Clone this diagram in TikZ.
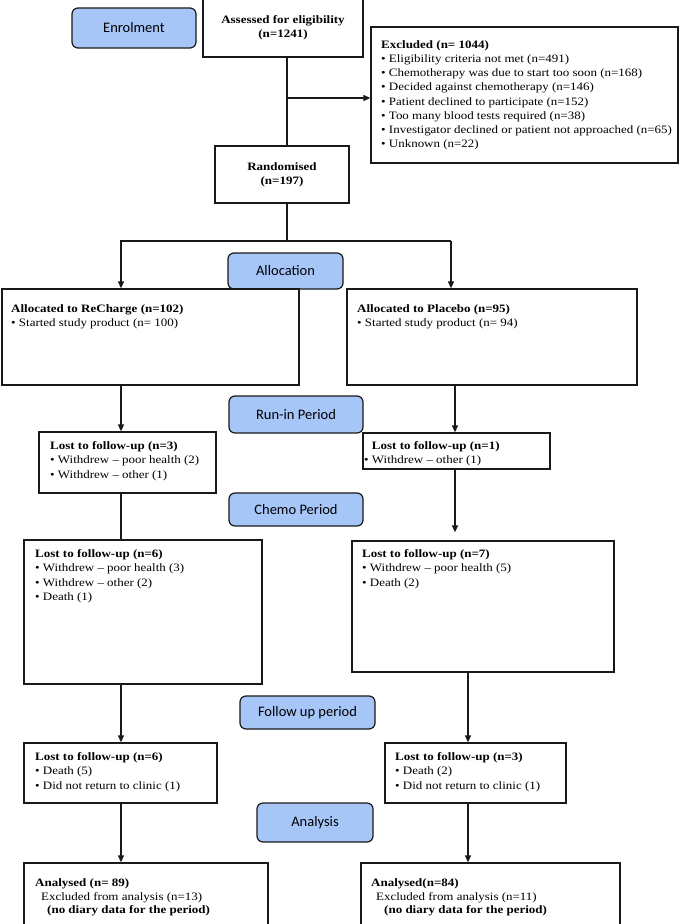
\documentclass[tikz,border=0pt]{standalone}
\usepackage{fontspec}
\setmainfont{Liberation Serif}[UprightFeatures={FakeStretch=1.147}, BoldFeatures={FakeStretch=1.15}]
\newfontfamily\phasefont{Carlito}
\usetikzlibrary{arrows.meta,calc}
\definecolor{phaseblue}{RGB}{166,198,248}
\definecolor{inkline}{RGB}{25,25,25}
\newcommand\mybox[6]{\node[#6, minimum width={#4-#2}, minimum height={#5-#3}] (#1) at ({(#2+#4)/2},{(#3+#5)/2}) {};}
\newcommand\myphase[6]{\node[phase, minimum width={#4-#2}, minimum height={#5-#3}] (#1) at ({(#2+#4)/2},{(#3+#5)/2}) {#6};}
\begin{document}
\begin{tikzpicture}[x=1pt,y=-1pt,
  box/.style={draw=inkline, line width=1.3pt, fill=white, inner sep=0pt},
  cbox/.style={box, align=center, font=\bfseries\fontsize{11.3}{14.2}\selectfont},
  phase/.style={draw=inkline, line width=1.2pt, fill=phaseblue, rounded corners=6pt, inner sep=0pt, font=\phasefont\fontsize{14.5}{16}\selectfont},
  txt/.style={anchor=north west, align=left, inner sep=0pt, font=\fontsize{11.3}{14.5}\selectfont},
  conn/.style={draw=inkline, line width=1.3pt},
  arr/.style={conn, -{Triangle[length=7pt,width=6pt]}}]
\useasboundingbox (0,0) rectangle (685,924);
\fill[white] (0,0) rectangle (685,924);

% phase labels
\myphase{enrol}{72}{8}{196}{48}{Enrolment}
\myphase{alloc}{228}{253}{343}{289}{Allocation}
\myphase{runin}{229}{396}{363}{433}{Run-in Period}
\myphase{chemo}{229}{493}{363}{526}{Chemo Period}
\myphase{fup}{240}{696}{375}{729}{Follow up period}
\myphase{anal}{257}{803}{373}{842}{Analysis}

% boxes
\node[cbox, minimum width=160, minimum height=59] (assess) at (283,27.5) {Assessed for eligibility\\(n=1241)};
\node[cbox, minimum width=134, minimum height=57] (rand) at (282,174.5) {Randomised\\(n=197)};
\mybox{excl}{371}{27}{678}{163}{box}
\mybox{rech}{2}{289}{299}{385}{box}
\mybox{plac}{347}{289}{637}{385}{box}
\mybox{lthree}{39}{432}{216}{493}{box}
\mybox{lone}{363}{433}{550}{469}{box}
\mybox{csix}{24}{540}{262}{684}{box}
\mybox{cseven}{352}{541}{614}{672}{box}
\mybox{fsix}{24}{743}{217}{803}{box}
\mybox{fthree}{385}{743}{566}{803}{box}
\mybox{aleft}{24}{863}{268}{926}{box}
\mybox{aright}{361}{863}{620}{926}{box}

% texts
\node[txt, font=\fontsize{11.3}{14.2}\selectfont] (excl-t) at (381,40.2) {\textbf{Excluded (n= 1044)}\\
• Eligibility criteria not met (n=491)\\
• Chemotherapy was due to start too soon (n=168)\\
• Decided against chemotherapy (n=146)\\
• Patient declined to participate (n=152)\\
• Too many blood tests required (n=38)\\
• Investigator declined or patient not approached (n=65)\\
• Unknown (n=22)};
\node[txt] (rech-t) at (11,304.2) {\textbf{Allocated to ReCharge (n=102)}\\• Started study product (n= 100)};
\node[txt] (plac-t) at (357,304.2) {\textbf{Allocated to Placebo (n=95)}\\• Started study product (n= 94)};
\node[txt] (lthree-t) at (50,441.2) {\textbf{Lost to follow-up (n=3)}\\• Withdrew – poor health (2)\\• Withdrew – other (1)};
\node[txt] (lone-t) at (364,441.2) {\hphantom{•\ }\textbf{Lost to follow-up (n=1)}\\•\ Withdrew – other (1)};
\node[txt] (csix-t) at (35,549.2) {\textbf{Lost to follow-up (n=6)}\\• Withdrew – poor health (3)\\• Withdrew – other (2)\\• Death (1)};
\node[txt] (cseven-t) at (362,549.2) {\textbf{Lost to follow-up (n=7)}\\• Withdrew – poor health (5)\\• Death (2)};
\node[txt] (fsix-t) at (35,752.2) {\textbf{Lost to follow-up (n=6)}\\• Death (5)\\• Did not return to clinic (1)};
\node[txt] (fthree-t) at (395,752.2) {\textbf{Lost to follow-up (n=3)}\\• Death (2)\\• Did not return to clinic (1)};
\node[txt, font=\fontsize{11.3}{13.8}\selectfont] (aleft-t) at (35,878.2) {\textbf{Analysed (n= 89)}\\\hspace*{6pt}Excluded from analysis (n=13)\\\hspace*{12pt}\textbf{(no diary data for the period)}};
\node[txt, font=\fontsize{11.3}{13.8}\selectfont] (aright-t) at (371,878.2) {\textbf{Analysed(n=84)}\\\hspace*{5pt}Excluded from analysis (n=11)\\\hspace*{13pt}\textbf{(no diary data for the period)}};

% connector helper coordinates
\coordinate (tx) at (287,0);
\coordinate (br) at (287,98);
\coordinate (sp) at (287,241);
\coordinate (la) at (121,0);
\coordinate (ra) at (451,241);
\coordinate (rb) at (455,0);
\coordinate (rc) at (468,0);

% connectors
\draw[conn] (assess.south -| tx) -- (rand.north -| tx);
\draw[arr] (br) -- (br -| excl.west);
\draw[conn] (rand.south -| tx) -- (sp);
\draw[arr] (ra) -- (sp) -| (rech.north -| la);
\draw[arr] (ra) -- (plac.north -| ra);
\draw[arr] (rech.south -| la) -- (lthree.north -| la);
\draw[conn] (lthree.south -| la) -- (csix.north -| la);
\draw[arr] (csix.south -| la) -- (fsix.north -| la);
\draw[arr] (fsix.south -| la) -- (aleft.north -| la);
\draw[arr] (plac.south -| rb) -- (lone.north -| rb);
\draw[arr, shorten >=8pt] (lone.south -| rb) -- (cseven.north -| rb);
\draw[arr] (cseven.south -| rc) -- (fthree.north -| rc);
\draw[arr] (fthree.south -| rc) -- (aright.north -| rc);
\end{tikzpicture}
\end{document}
